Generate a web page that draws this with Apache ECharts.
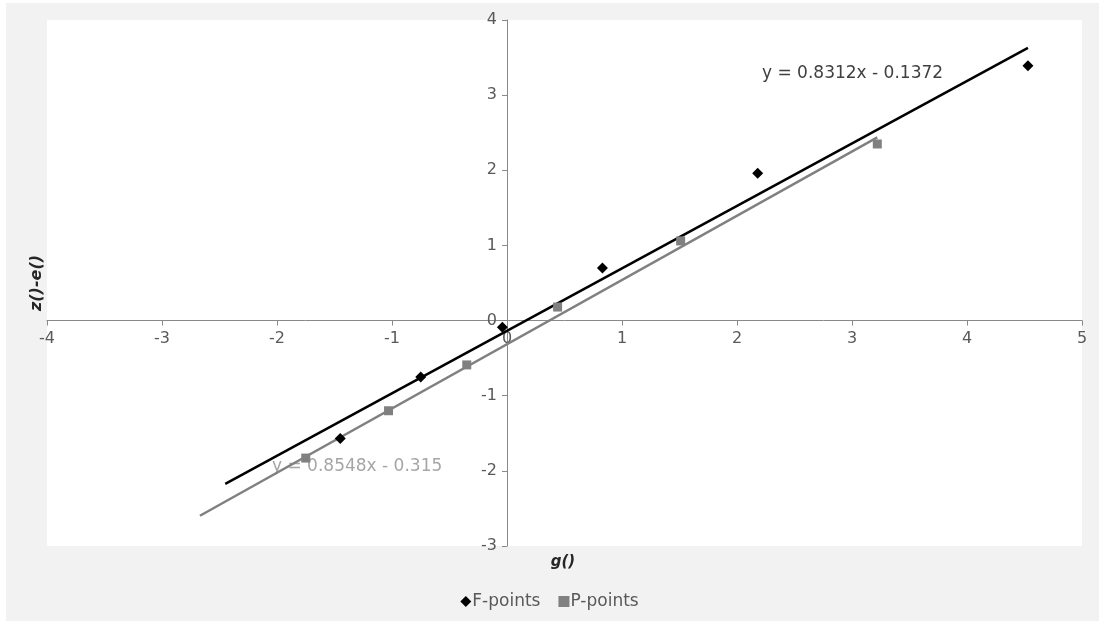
<!DOCTYPE html>
<html>
<head>
<meta charset="utf-8">
<script src="https://cdn.jsdelivr.net/npm/echarts@6/dist/echarts.min.js"></script>
<style>
html,body{margin:0;padding:0;background:#fff;}
#c{width:1099px;height:621px;}
</style>
</head>
<body>
<div id="c"></div>
<script>
// ---- data ----
var seriesNames = ['F-points', 'P-points'];
var fX = [-1.45, -0.75, -0.04, 0.83, 2.18, 4.53];
var fY = [-1.57, -0.75, -0.09, 0.70, 1.96, 3.39];
var pX = [-1.75, -1.03, -0.35, 0.44, 1.51, 3.22];
var pY = [-1.83, -1.20, -0.59, 0.18, 1.06, 2.35];
// trendlines: slope, intercept, x-range
var fTrend = [0.8312, -0.1372];
var pTrend = [0.8548, -0.315];
var fTrendRange = [-2.45, 4.53];
var pTrendRange = [-2.67, 3.22];
var fTrendLabel = 'y = 0.8312x - 0.1372';
var pTrendLabel = 'y = 0.8548x - 0.315';
var xTicks = [-4, -3, -2, -1, 0, 1, 2, 3, 4, 5];
var yTicks = [-3, -2, -1, 0, 1, 2, 3, 4];
var xTitle = 'g()';
var yTitle = 'z()-e()';

function pts(xs, ys) { return xs.map(function (x, i) { return [x, ys[i]]; }); }
function trend(t, r) { return r.map(function (x) { return [x, t[0] * x + t[1]]; }); }

var FONT = 'DejaVu Sans';
var G = { left: 47, top: 20, width: 1035, height: 526 };
var xMin = xTicks[0], xMax = xTicks[xTicks.length - 1];
var yMin = yTicks[0], yMax = yTicks[yTicks.length - 1];
// place axes at zero crossing
var yAxisOffset = -G.width * (0 - xMin) / (xMax - xMin);
var xAxisOffset = -G.height * (0 - yMin) / (yMax - yMin);

var chart = echarts.init(document.getElementById('c'));
chart.setOption({
  animation: false,
  backgroundColor: '#ffffff',
  graphic: [
    { type: 'rect', z: -10, shape: { x: 6, y: 3, width: 1093, height: 618 }, style: { fill: '#f2f2f2' } },
    { type: 'rect', z: -9, shape: { x: G.left, y: G.top, width: G.width, height: G.height }, style: { fill: '#ffffff' } },
    { type: 'text', x: 762, y: 65, style: { text: fTrendLabel, font: '17px ' + FONT, fill: '#404040' } },
    { type: 'text', x: 272, y: 458, style: { text: pTrendLabel, font: '17px ' + FONT, fill: '#a6a6a6' } },
    { type: 'text', x: 563, y: 562, style: { text: xTitle, font: 'italic bold 15px ' + FONT, fill: '#262626', align: 'center', verticalAlign: 'middle' } },
    { type: 'text', x: 37, y: 283, rotation: Math.PI / 2, style: { text: yTitle, font: 'italic bold 16px ' + FONT, fill: '#262626', align: 'center', verticalAlign: 'middle' } }
  ],
  grid: { left: G.left, top: G.top, width: G.width, height: G.height, containLabel: false },
  legend: {
    bottom: 6, left: 'center', itemWidth: 11, itemHeight: 11, itemGap: 18,
    textStyle: { fontFamily: FONT, fontSize: 17, color: '#595959', padding: [0, 0, 0, -4] },
    data: [{ name: seriesNames[0], icon: 'diamond' }, { name: seriesNames[1], icon: 'rect' }]
  },
  xAxis: {
    type: 'value', min: xMin, max: xMax, interval: 1, position: 'bottom', offset: xAxisOffset,
    axisLine: { onZero: false, lineStyle: { color: '#898989', width: 1 } },
    axisTick: { show: true, length: 5, lineStyle: { color: '#898989' } },
    axisLabel: { fontFamily: FONT, fontSize: 16, color: '#595959', margin: 10 },
    splitLine: { show: false }
  },
  yAxis: {
    type: 'value', min: yMin, max: yMax, interval: 1, position: 'left', offset: yAxisOffset,
    axisLine: { onZero: false, lineStyle: { color: '#898989', width: 1 } },
    axisTick: { show: true, length: 5, lineStyle: { color: '#898989' } },
    axisLabel: { fontFamily: FONT, fontSize: 16, color: '#595959', margin: 10 },
    splitLine: { show: false }
  },
  series: [
    { name: seriesNames[0] + ' trend', type: 'line', data: trend(fTrend, fTrendRange), showSymbol: false, symbol: 'none',
      lineStyle: { color: '#000000', width: 2.5 }, z: 2, silent: true },
    { name: seriesNames[1] + ' trend', type: 'line', data: trend(pTrend, pTrendRange), showSymbol: false, symbol: 'none',
      lineStyle: { color: '#808080', width: 2.5 }, z: 2, silent: true },
    { name: seriesNames[0], type: 'scatter', data: pts(fX, fY), symbol: 'diamond', symbolSize: 11,
      itemStyle: { color: '#000000', opacity: 1 }, z: 3 },
    { name: seriesNames[1], type: 'scatter', data: pts(pX, pY), symbol: 'rect', symbolSize: 9,
      itemStyle: { color: '#808080', opacity: 1 }, z: 3 }
  ]
});
</script>
</body>
</html>
